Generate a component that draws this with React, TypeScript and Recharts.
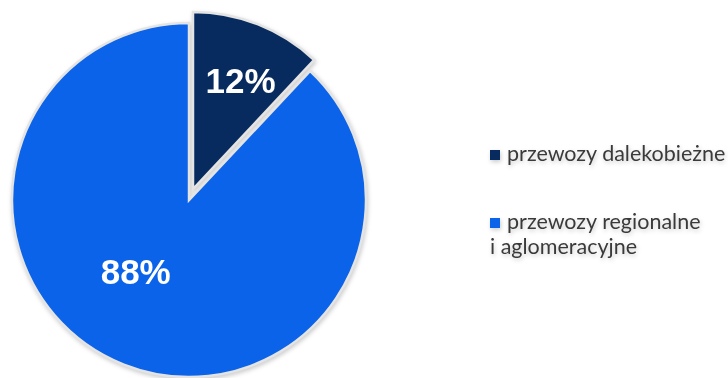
import { Cell, Legend, Pie, PieChart } from 'recharts'

const categories = ['przewozy dalekobieżne', 'przewozy regionalne\ni aglomeracyjne']
const shares = [12, 88]
const colors = ['#072b5f', '#0a63e8']

// the small slice is pulled out of the pie, so it is drawn by a second Pie
const labelRadius = [0.67, 0.505]
const labelAngleShift = [-2, -15]

const data = categories.map((name, i) => ({ name, value: shares[i] }))
const RAD = Math.PI / 180

function SliceLabel(props: any) {
  const { cx, cy, midAngle, outerRadius, percent, index } = props
  const r = outerRadius * labelRadius[index]
  const a = (midAngle + labelAngleShift[index]) * RAD
  return (
    <text
      x={cx + r * Math.cos(a)}
      y={cy - r * Math.sin(a)}
      fill="#fff"
      textAnchor="middle"
      dominantBaseline="central"
      style={{ fontFamily: '"Liberation Sans", Arial, sans-serif', fontWeight: 700, fontSize: 35 }}
    >
      {Math.round(percent * 100)}%
    </text>
  )
}

function LegendBox({ payload }: any) {
  // both Pies report their slices, keep one entry per category
  const items = (payload ?? []).filter(
    (p: any, i: number, all: any[]) => all.findIndex((q) => q.value === p.value) === i,
  )
  return (
    <div style={{ fontFamily: 'Lato, sans-serif', fontSize: 21.5, lineHeight: '25px', color: '#3a3a3a' }}>
      {items.map((p: any, i: number) => (
        <div key={p.value} style={{ whiteSpace: 'pre-line', marginTop: i === 0 ? 0 : 43 }}>
          <span
            style={{
              display: 'inline-block',
              width: 10,
              height: 10,
              background: p.color,
              marginRight: 7,
              verticalAlign: 1,
            }}
          />
          {p.value}
        </div>
      ))}
    </div>
  )
}

export default function App() {
  return (
    <div style={{ width: 728, height: 378, background: '#fff' }}>
      <style>{'body{margin:0}'}</style>
      <PieChart
        width={728}
        height={378}
        margin={{ top: 0, right: 0, bottom: 0, left: 0 }}
        style={{ filter: 'drop-shadow(1px 2px 2px rgba(0,0,0,0.2))' }}
      >
        <Pie
          data={data}
          dataKey="value"
          nameKey="name"
          cx={189}
          cy={200}
          outerRadius={177}
          startAngle={90}
          endAngle={-270}
          stroke="#e4e4e4"
          strokeWidth={2.5}
          labelLine={false}
          label={(p: any) => (p.index === 1 ? <SliceLabel {...p} /> : null)}
          isAnimationActive={false}
        >
          {data.map((d, i) => (
            <Cell key={d.name} fill={colors[i]} fillOpacity={i === 1 ? 1 : 0} strokeOpacity={i === 1 ? 1 : 0} />
          ))}
        </Pie>
        <Pie
          data={data}
          dataKey="value"
          nameKey="name"
          cx={193}
          cy={189}
          outerRadius={177}
          startAngle={90}
          endAngle={-270}
          stroke="#e4e4e4"
          strokeWidth={2.5}
          labelLine={false}
          label={(p: any) => (p.index === 0 ? <SliceLabel {...p} /> : null)}
          isAnimationActive={false}
        >
          {data.map((d, i) => (
            <Cell key={d.name} fill={colors[i]} fillOpacity={i === 0 ? 1 : 0} strokeOpacity={i === 0 ? 1 : 0} />
          ))}
        </Pie>
        <Legend
          layout="vertical"
          content={<LegendBox />}
          wrapperStyle={{ left: 490, top: 141, width: 238 }}
        />
      </PieChart>
    </div>
  )
}
